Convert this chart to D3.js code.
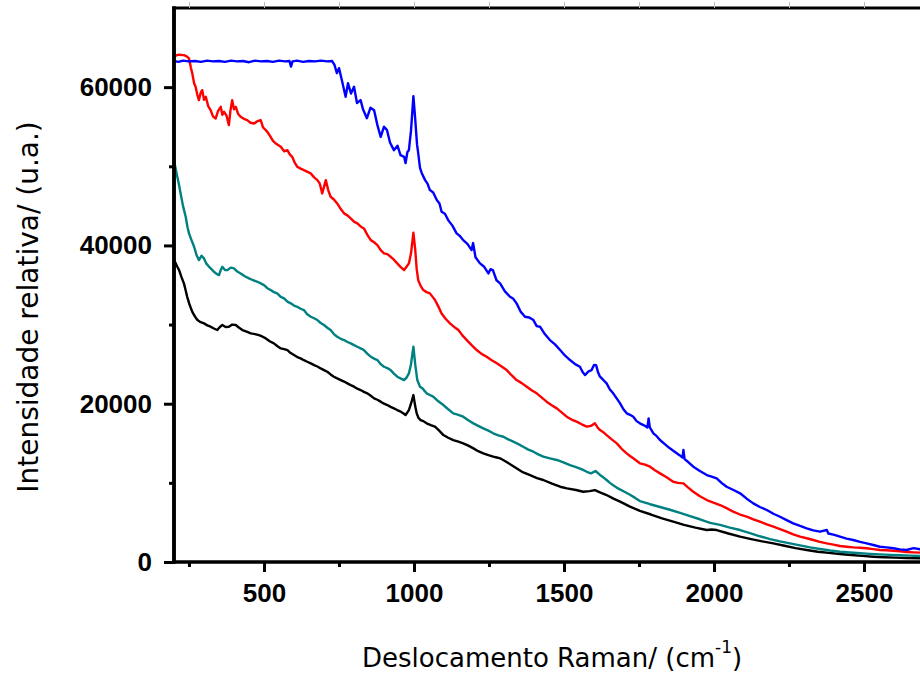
<!DOCTYPE html>
<html>
<head>
<meta charset="utf-8">
<script src="https://cdn.jsdelivr.net/npm/d3@7"></script>
<style>
  body { margin: 0; background: #fff; }
  .tick text { font-family: "Liberation Sans", Arial, sans-serif; font-weight: bold; font-size: 26px; fill: #000; }
  .title { font-family: "DejaVu Sans", Tahoma, sans-serif; fill: #000; }
</style>
</head>
<body>
<div id="chart"></div>
<script>
// Raman spectra, values
var blueX = [200,215,230,250,270,290,310,330,350,370,390,410,430,450,470,490,510,530,550,570,585,590,595,610,630,650,670,690,710,727,735,743,750,760,772,780,790,800,810,822,830,843,855,867,878,889,900,910,920,933,945,955,967,972,978,983,990,998,1004,1010,1014,1020,1026,1037,1045,1053,1064,1076,1085,1092,1103,1114,1128,1142,1153,1164,1178,1192,1197,1205,1220,1234,1248,1255,1263,1275,1287,1303,1320,1330,1342,1356,1370,1384,1398,1409,1420,1436,1453,1470,1487,1503,1520,1537,1553,1562,1570,1582,1592,1600,1607,1614,1620,1631,1642,1653,1664,1675,1687,1698,1709,1720,1731,1742,1753,1765,1778,1782,1786,1798,1809,1820,1836,1853,1870,1885,1895,1898,1902,1915,1931,1953,1976,1992,2009,2025,2042,2065,2087,2109,2131,2153,2176,2198,2220,2242,2264,2287,2309,2331,2353,2376,2381,2398,2420,2442,2464,2487,2509,2531,2553,2575,2598,2620,2642,2665,2687,2700];
var blueY = [63300,63200,63350,63250,63300,63200,63350,63250,63300,63200,63350,63250,63300,63150,63350,63250,63300,63200,63350,63250,63300,62600,63250,63350,63200,63300,63250,63350,63250,63300,62800,61770,62400,60800,58780,60500,59200,60040,58000,58360,57200,56080,57400,57090,55200,53720,55000,54570,53000,52040,52600,51400,51200,50400,51800,52040,54500,58860,56000,52800,51660,49800,49130,48250,47800,46990,46700,45730,45300,44250,44000,43200,42500,41520,41200,40670,40200,39410,40300,38500,37730,37300,36470,37000,36880,35600,35200,34200,33520,33300,32680,31600,30990,30900,30570,29800,29730,28800,28040,27500,26780,26100,25520,25000,24670,24000,23620,24100,24250,24900,24880,23900,23410,23000,22570,21800,21310,20700,20050,19300,18780,18600,18360,17800,17520,17300,17000,18150,17000,16260,15900,15410,14900,14360,13900,13500,13200,14150,13000,12600,12040,11500,10990,10800,10570,10000,9510,9100,8680,8000,7410,6950,6570,6100,5720,5300,4880,4550,4260,4000,3830,4040,3600,3450,3200,2950,2780,2550,2360,2150,1930,1850,1730,1600,1520,1750,1600,1550];

var redX = [200,215,233,242,250,256,261,267,272,278,283,289,294,300,306,314,322,330,339,347,356,361,367,375,383,388,394,400,406,414,422,433,444,455,467,478,489,497,506,514,522,530,539,547,556,567,578,586,594,602,611,622,633,645,656,667,678,686,694,700,706,714,722,733,744,756,767,778,789,800,811,822,833,845,856,867,878,889,900,911,922,933,944,955,967,975,983,990,998,1004,1009,1014,1022,1031,1042,1053,1062,1070,1081,1092,1106,1120,1134,1148,1162,1176,1192,1209,1225,1242,1259,1276,1292,1309,1325,1342,1359,1376,1392,1409,1425,1442,1459,1476,1492,1509,1525,1542,1559,1576,1590,1603,1612,1620,1631,1642,1659,1676,1692,1709,1720,1731,1742,1753,1770,1787,1803,1820,1842,1864,1880,1898,1914,1931,1953,1976,1998,2020,2042,2064,2087,2109,2131,2153,2176,2198,2220,2242,2264,2287,2309,2331,2353,2376,2398,2420,2442,2464,2487,2509,2531,2553,2575,2598,2620,2642,2665,2687,2700];
var redY = [63900,64100,64040,63900,63620,62500,61730,60500,60040,59000,58360,59300,59620,58400,58780,57600,57090,56300,56040,57000,57510,56500,56880,56400,55200,57000,58360,57200,57510,56600,56250,56000,55830,55500,55410,55700,55830,54900,54570,54200,53720,53200,52880,52700,52460,51900,52040,51500,51200,50500,49940,49700,49520,49300,49100,48600,48250,47800,46570,47400,48250,47000,46150,45800,45310,44600,44050,43800,43420,43000,42780,42400,42150,41300,40670,40400,40040,39400,38990,38900,38570,38200,37730,37300,36880,37300,37730,39000,41600,39500,37000,35620,34900,34360,34100,33940,33500,33100,32300,31410,30700,30150,29700,29310,28600,28040,27400,26780,26300,25940,25500,25100,24700,24250,23600,22990,22600,22150,21700,21310,20800,20260,19800,19410,18900,18360,18000,17730,17400,17100,17200,17520,17000,16670,16400,16040,15500,14990,14300,13730,13400,13100,12800,12470,12300,12040,11600,11200,10700,10140,10000,9940,9400,8880,8300,7830,7500,7200,6800,6360,6000,5720,5400,5090,4750,4460,4150,3830,3500,3200,3000,2780,2550,2360,2200,2020,1930,1850,1800,1730,1620,1520,1480,1430,1350,1260,1220,1180,1150];

var tealX = [200,206,211,217,222,230,239,245,250,258,267,275,283,292,300,308,317,325,333,342,350,356,361,370,378,389,400,411,422,436,450,464,478,489,500,511,522,533,544,556,567,578,589,600,611,622,633,644,656,667,678,689,700,711,722,733,744,756,767,778,789,800,811,822,833,845,856,867,878,889,900,911,922,933,944,955,967,975,983,990,998,1004,1011,1020,1028,1042,1053,1064,1081,1098,1114,1131,1148,1164,1181,1198,1214,1231,1248,1264,1281,1298,1314,1331,1348,1364,1381,1398,1414,1431,1453,1476,1498,1520,1540,1560,1576,1590,1605,1620,1631,1642,1653,1664,1680,1700,1720,1737,1753,1787,1820,1853,1887,1920,1953,1987,2020,2053,2087,2120,2153,2187,2220,2253,2287,2320,2353,2387,2420,2453,2487,2520,2553,2587,2620,2653,2687,2700];
var tealY = [50780,49600,48670,47600,46570,45000,43620,42300,41520,40700,39830,38800,38150,38700,38360,37700,37300,37000,36670,36400,36250,36900,37300,36900,36880,37200,37100,36700,36460,36100,35830,35600,35410,35200,34990,34600,34360,34100,33940,33500,33310,32900,32680,32400,32250,32000,31830,31300,30990,30800,30570,30200,29940,29600,29310,28800,28460,28200,28040,27800,27620,27400,27200,27000,26780,26300,25940,25700,25520,25000,24670,24500,24250,23800,23410,23200,22990,23300,23830,25000,27200,25000,22990,22150,21940,21310,21100,20890,20300,19830,19300,18780,18600,18360,17900,17520,17200,16890,16600,16260,16000,15830,15500,15200,14900,14570,14200,13940,13600,13310,13100,12890,12600,12250,12000,11700,11400,11200,11500,11000,10700,10360,10000,9700,9300,8900,8500,8100,7700,7300,6950,6600,6200,5800,5400,4950,4700,4350,4040,3650,3250,2900,2600,2350,2100,1850,1650,1450,1300,1200,1100,1020,960,900,850,800,760,750];

var blackX = [200,206,211,217,225,233,239,244,252,261,270,278,289,300,311,322,333,344,353,361,372,383,394,406,417,428,442,456,470,483,494,506,519,533,544,556,567,578,589,600,611,622,633,644,656,667,678,689,700,711,722,733,744,756,767,778,789,800,811,822,833,844,856,867,878,889,900,911,922,933,944,956,964,972,978,983,990,998,1004,1009,1015,1022,1031,1042,1056,1070,1084,1098,1114,1131,1148,1164,1181,1198,1214,1231,1248,1264,1276,1287,1310,1335,1360,1385,1410,1431,1460,1487,1510,1540,1564,1585,1603,1620,1642,1665,1687,1720,1753,1790,1827,1864,1900,1938,1976,1992,2009,2048,2087,2124,2161,2198,2235,2272,2309,2346,2383,2420,2457,2494,2531,2567,2604,2641,2687,2700];
var blackY = [38100,37730,37300,36880,36000,35200,34300,33500,32500,31600,31000,30570,30300,30150,29900,29730,29500,29310,29700,29940,29700,29730,30000,29940,29600,29310,29100,28880,28800,28670,28500,28250,27900,27620,27300,26990,26900,26780,26400,26150,25900,25730,25500,25300,25100,24880,24700,24460,24250,24040,23700,23410,23200,22990,22800,22570,22350,22150,21900,21730,21500,21310,21000,20680,20500,20260,20000,19830,19600,19410,19200,18990,18800,18570,18900,19200,20000,21090,19700,18780,18200,17940,17800,17520,17300,17100,16600,16040,15700,15410,15200,14990,14700,14360,14000,13730,13500,13310,13200,13100,12600,12000,11400,11000,10600,10360,9900,9510,9300,9100,8880,8950,9090,8800,8460,8000,7620,7000,6450,6000,5500,5090,4700,4350,4040,4100,4040,3600,3200,2900,2600,2360,2050,1750,1520,1300,1150,1010,880,770,670,600,550,510,470,460];

var seriesNames = ["black", "teal", "red", "blue"];
var seriesColors = ["#000000", "#008080", "#ff0000", "#0000ff"];
var xMajor = [500, 1000, 1500, 2000, 2500];
var xMinor = [250, 750, 1250, 1750, 2250];
var yMajor = [0, 20000, 40000, 60000];
var yMinor = [10000, 30000, 50000];

(function () {
    var W = 920, H = 674;
    var margin = {top: 8, left: 174, bottom: 112};
    var plotRight = 924;

    var svg = d3.select("#chart").append("svg")
        .attr("width", W)
        .attr("height", H)
        .style("display", "block");

    svg.append("rect").attr("width", W).attr("height", H).attr("fill", "#fff");

    var x = d3.scaleLinear().domain([200, 2700]).range([margin.left, plotRight]);
    var y = d3.scaleLinear().domain([0, 70000]).range([H - margin.bottom, margin.top]);

    svg.append("clipPath").attr("id", "clip")
        .append("rect")
        .attr("x", margin.left).attr("y", margin.top)
        .attr("width", plotRight - margin.left).attr("height", y(0) - margin.top);

    var line = d3.line()
        .x(function (d) { return x(d[0]); })
        .y(function (d) { return y(d[1]); });

    var seriesData = [
        d3.zip(blackX, blackY),
        d3.zip(tealX, tealY),
        d3.zip(redX, redY),
        d3.zip(blueX, blueY)
    ];

    svg.append("g").attr("clip-path", "url(#clip)")
        .selectAll("path")
        .data(seriesData)
        .enter().append("path")
        .attr("class", function (d, i) { return "line " + seriesNames[i]; })
        .attr("fill", "none")
        .attr("stroke", function (d, i) { return seriesColors[i]; })
        .attr("stroke-width", 2.4)
        .attr("stroke-linejoin", "round")
        .attr("d", line);

    // top frame line
    svg.append("line")
        .attr("x1", margin.left - 1.5).attr("x2", W)
        .attr("y1", margin.top).attr("y2", margin.top)
        .attr("stroke", "#000").attr("stroke-width", 3);

    svg.append("g")
        .attr("transform", "translate(0," + margin.top + ")")
        .call(d3.axisTop(x).tickValues(xMajor.concat(xMinor)).tickSize(6).tickSizeOuter(0).tickFormat(""))
        .call(function (g) {
            g.select(".domain").remove();
            g.selectAll(".tick line").attr("stroke", "#bbb").attr("stroke-width", 1);
        });

    // bottom axis
    var gx = svg.append("g")
        .attr("class", "axis axis--x")
        .attr("transform", "translate(0," + y(0) + ")");
    gx.call(d3.axisBottom(x).tickValues(xMinor).tickSize(5).tickSizeOuter(0).tickFormat(""));
    gx.append("g")
        .call(d3.axisBottom(x).tickValues(xMajor).tickSize(10).tickSizeOuter(0).tickPadding(12).tickFormat(d3.format("d")));
    gx.selectAll(".domain").attr("stroke-width", 3).attr("d", "M" + (margin.left - 1.5) + ",0H" + W);
    gx.selectAll(".tick line").attr("stroke-width", 3);

    // left axis
    var gy = svg.append("g")
        .attr("class", "axis axis--y")
        .attr("transform", "translate(" + margin.left + ",0)");
    gy.call(d3.axisLeft(y).tickValues(yMinor).tickSize(5).tickSizeOuter(0).tickFormat(""));
    gy.append("g")
        .call(d3.axisLeft(y).tickValues(yMajor).tickSize(10).tickSizeOuter(0).tickPadding(12).tickFormat(d3.format("d")));
    gy.selectAll(".domain").attr("stroke-width", 3.5)
        .attr("d", "M0," + (margin.top - 1.5) + "V" + (y(0) + 1.5));
    gy.selectAll(".tick line").attr("stroke-width", 3);

    // axis titles
    var xt = svg.append("text")
        .attr("class", "title")
        .attr("x", 362)
        .attr("y", 667)
        .style("font-size", "26px");
    xt.append("tspan").text("Deslocamento Raman/ (cm");
    xt.append("tspan").attr("dy", -14).style("font-size", "17px").text("-1");
    xt.append("tspan").attr("dy", 14).text(")");

    svg.append("text")
        .attr("class", "title")
        .attr("transform", "translate(38,307) rotate(-90)")
        .attr("text-anchor", "middle")
        .style("font-size", "28px")
        .text("Intensidade relativa/ (u.a.)");
})();
</script>
</body>
</html>
